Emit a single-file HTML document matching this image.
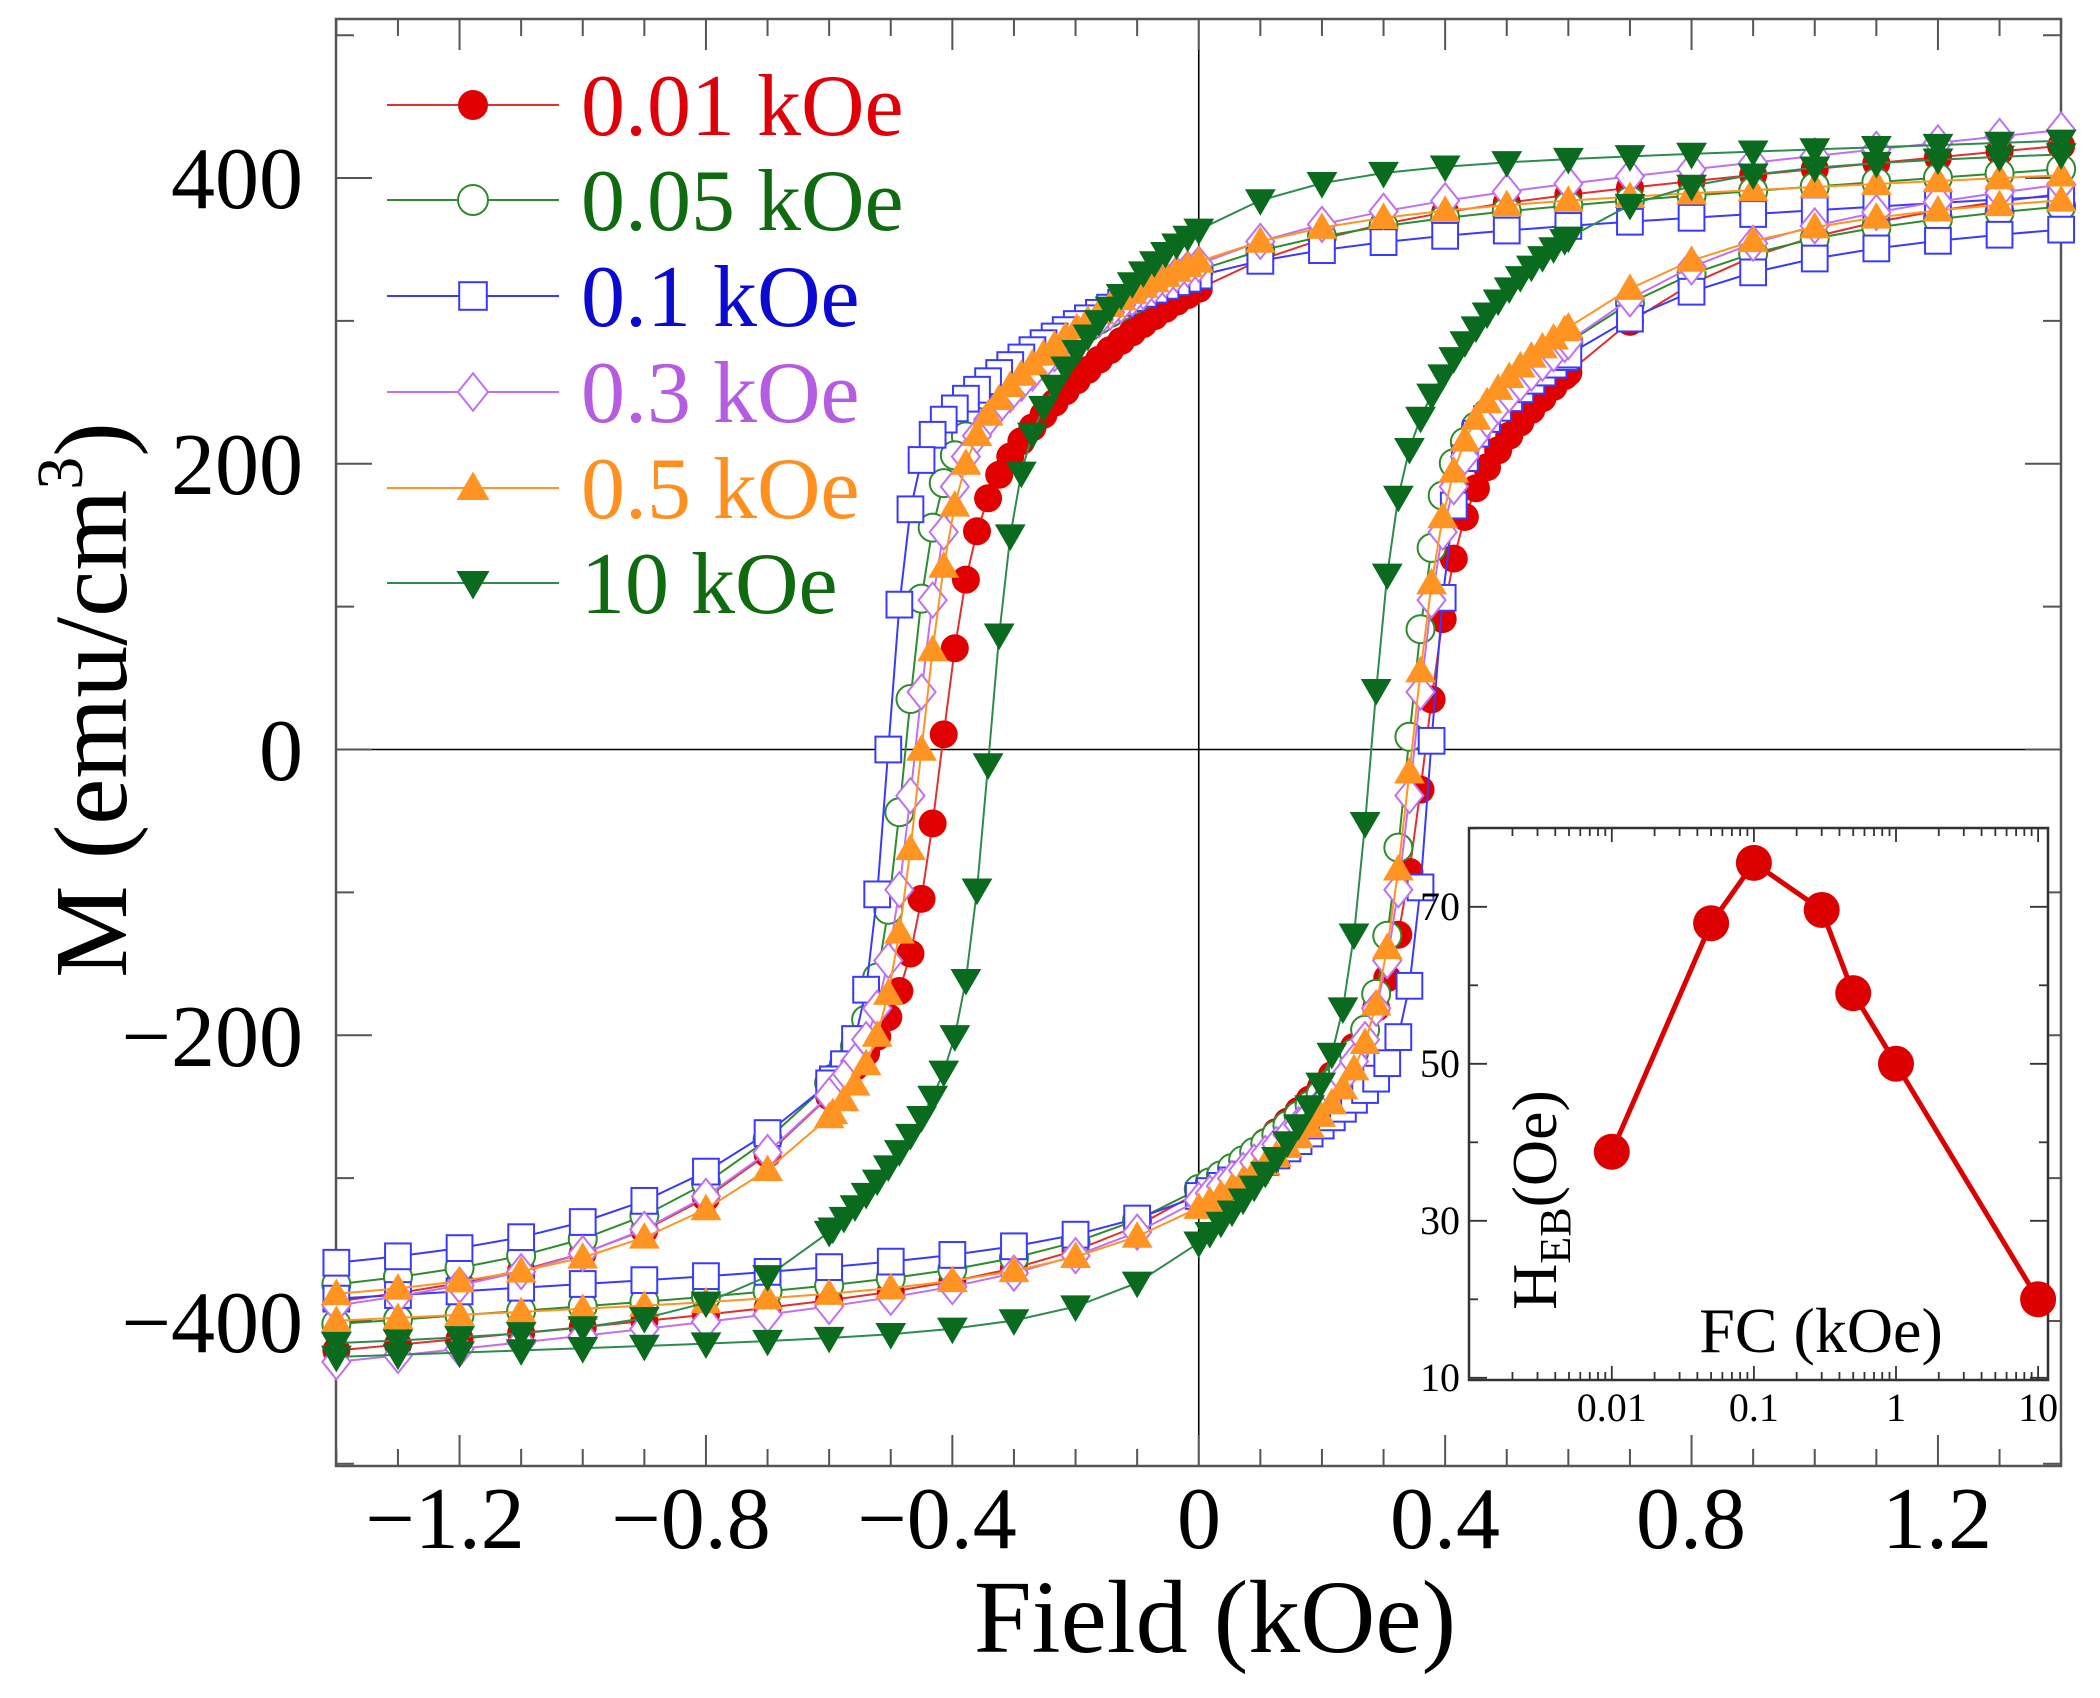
<!DOCTYPE html>
<html><head><meta charset="utf-8">
<style>
html,body{margin:0;padding:0;background:#fff;}
svg{display:block;}
text{font-family:"Liberation Serif","Times New Roman",serif;}
</style></head>
<body>
<svg id="s" width="2100" height="1698" viewBox="0 0 2100 1698" xmlns="http://www.w3.org/2000/svg" font-family="Liberation Serif, serif">
<rect width="2100" height="1698" fill="#fff"/>
<g id="main"></g>
<g id="inset"></g>
<g id="txt">
<g font-size="88" text-anchor="end" fill="#000">
<text x="303" y="208">400</text>
<text x="303" y="494">200</text>
<text x="303" y="780">0</text>
<text x="303" y="1066">−200</text>
<text x="303" y="1352">−400</text>
</g>
<g font-size="88" text-anchor="middle" fill="#000">
<text x="445" y="1548">−1.2</text>
<text x="691" y="1548">−0.8</text>
<text x="937" y="1548">−0.4</text>
<text x="1199" y="1548">0</text>
<text x="1445" y="1548">0.4</text>
<text x="1691" y="1548">0.8</text>
<text x="1937" y="1548">1.2</text>
</g>
<text x="1215" y="1652" font-size="104" text-anchor="middle">Field (kOe)</text>
<text transform="translate(126,700) rotate(-90)" font-size="104" text-anchor="middle">M (emu/cm<tspan font-size="66" dy="-44">3</tspan><tspan dy="44">)</tspan></text>
<g font-size="88">
<text x="581" y="135" fill="#e0000a">0.01 kOe</text>
<text x="581" y="230" fill="#106a10">0.05 kOe</text>
<text x="581" y="326" fill="#0a0ad0">0.1 kOe</text>
<text x="581" y="422" fill="#b55ce0">0.3 kOe</text>
<text x="581" y="518" fill="#ff9020">0.5 kOe</text>
<text x="581" y="613" fill="#106a10">10 kOe</text>
</g>
</g>
</svg>
<script>
(function(){
var NS="http://www.w3.org/2000/svg";
var L=336,R=2061,T=19,B=1466;
function X(h){return 1198.75+h*616;}
function Y(m){return 749.5-m*1.4286;}
var main=document.getElementById('main');
function el(tag,at,par){var e=document.createElementNS(NS,tag);for(var k in at)e.setAttribute(k,at[k]);(par||main).appendChild(e);return e;}
el('line',{x1:X(0),y1:T,x2:X(0),y2:B,stroke:'#000','stroke-width':1.6});
el('line',{x1:L,y1:Y(0),x2:R,y2:Y(0),stroke:'#000','stroke-width':1.6});
for(var i=-14;i<=14;i++){var h=i/10,x=X(h);var maj=(Math.abs(i)%4==0);var len=maj?31:17;
 el('line',{x1:x,y1:B,x2:x,y2:B-len,stroke:'#555','stroke-width':2});
 el('line',{x1:x,y1:T,x2:x,y2:T+len,stroke:'#555','stroke-width':2});}
for(var m=-500;m<=500;m+=100){var y=Y(m);if(y<T||y>B)continue;var maj=(m%200==0);var len=maj?36:18;
 el('line',{x1:L,y1:y,x2:L+len,y2:y,stroke:'#555','stroke-width':2});
 el('line',{x1:R,y1:y,x2:R-len,y2:y,stroke:'#555','stroke-width':2});}
el('rect',{x:L,y:T,width:R-L,height:B-T,fill:'none',stroke:'#555','stroke-width':2.5});

var series=[
 {c:'#e00000',line:'#e03030',mk:'circle',fill:true,hd:-0.417,ha:0.368,A:150,w1:0.05,B:200,w2:0.4,C:40},
 {c:'#2e8b2e',line:'#2e8b2e',mk:'circle',fill:false,hd:-0.476,ha:0.34,A:180,w1:0.045,B:170,w2:0.4,C:30},
 {c:'#3a3aff',line:'#3a3aff',mk:'square',fill:false,hd:-0.504,ha:0.377,A:200,w1:0.035,B:140,w2:0.4,C:25},
 {c:'#c070f0',line:'#c070f0',mk:'diamond',fill:false,hd:-0.46,ha:0.35,A:180,w1:0.05,B:170,w2:0.4,C:45},
 {c:'#ff9422',line:'#ff9422',mk:'up',fill:true,hd:-0.45,ha:0.346,A:195,w1:0.055,B:170,w2:0.4,C:20},
 {c:'#0a6b1f',line:'#2e8b4e',mk:'down',fill:true,hd:-0.34,ha:0.28,A:180,w1:0.04,B:220,w2:0.3,C:15}
];
function th(x){return Math.tanh(x);}
function marker(s,x,y,r,par){
 var f=s.fill?s.c:'#fff',st=s.c;
 if(s.mk=='circle')el('circle',{cx:x,cy:y,r:r,fill:f,stroke:st,'stroke-width':s.fill?0:2},par);
 else if(s.mk=='square')el('rect',{x:x-r*0.92,y:y-r*0.92,width:r*1.84,height:r*1.84,fill:f,stroke:st,'stroke-width':2},par);
 else if(s.mk=='diamond')el('polygon',{points:[x,y-r*1.25,x+r,y,x,y+r*1.25,x-r,y].join(','),fill:f,stroke:st,'stroke-width':2},par);
 else if(s.mk=='up')el('polygon',{points:[x,y-r*1.1,x+r*1.1,y+r*0.8,x-r*1.1,y+r*0.8].join(','),fill:f},par);
 else el('polygon',{points:[x,y+r*1.1,x+r*1.1,y-r*0.8,x-r*1.1,y-r*0.8].join(','),fill:f},par);
}
series.forEach(function(s){
 function f(u){return s.A*th(u/s.w1)+s.B*th(u/s.w2)+s.C*u;}
 var pts=[],h;
 for(h=1.4;h>0.001;h-=0.1)pts.push([h,f(h-s.hd)]);
 for(h=0;h>-0.6;h-=0.018)pts.push([h,f(h-s.hd)]);
 for(h=-0.6;h>=-1.401;h-=0.1)pts.push([h,f(h-s.hd)]);
 var desc=pts;pts=[];
 for(h=-1.4;h<-0.001;h+=0.1)pts.push([h,f(h-s.ha)]);
 for(h=0;h<0.6;h+=0.018)pts.push([h,f(h-s.ha)]);
 for(h=0.6;h<=1.401;h+=0.1)pts.push([h,f(h-s.ha)]);
 var asc=pts;
 [desc,asc].forEach(function(p){
  el('polyline',{points:p.map(function(q){return X(q[0]).toFixed(1)+','+Y(q[1]).toFixed(1);}).join(' '),fill:'none',stroke:s.line,'stroke-width':2});
 });
 desc.concat(asc).forEach(function(q){marker(s,X(q[0]),Y(q[1]),14);});
});
var ly=[105,200,296,392,488,583];
series.forEach(function(s,i){
 el('line',{x1:387,y1:ly[i],x2:559,y2:ly[i],stroke:s.line,'stroke-width':2});
 marker(s,473,ly[i],15);
});
var ins=document.getElementById('inset');
var IL=1469,IR=2048,IT=828,IB=1380;
function IX(v){return 1611.8+(Math.log10(v)+2)*142.1;}
function IY(v){return 906.8-(v-70)*7.85;}
el('rect',{x:IL,y:IT,width:IR-IL,height:IB-IT,fill:'#fff',stroke:'#333','stroke-width':2.5},ins);
for(var d=-3;d<=1;d++){for(var k=1;k<10;k++){var v=k*Math.pow(10,d);var x=IX(v);if(x<IL+1||x>IR-1)continue;var len=(k==1)?14:8;
 el('line',{x1:x,y1:IB,x2:x,y2:IB-len,stroke:'#333','stroke-width':1.8},ins);
 el('line',{x1:x,y1:IT,x2:x,y2:IT+len,stroke:'#333','stroke-width':1.8},ins);}}
for(var v=10;v<=80;v+=10){var y=IY(v);var maj=((v-10)%20==0);var len=maj?18:9;
 el('line',{x1:IL,y1:y,x2:IL+len,y2:y,stroke:'#333','stroke-width':1.8},ins);
 el('line',{x1:IR,y1:y,x2:IR-len,y2:y,stroke:'#333','stroke-width':1.8},ins);}
var d2=[[0.01,38.8],[0.05,67.9],[0.1,75.6],[0.3,69.6],[0.5,59],[1,50],[10,20]];
el('polyline',{points:d2.map(function(q){return IX(q[0])+','+IY(q[1]);}).join(' '),fill:'none',stroke:'#dd0000','stroke-width':5},ins);
d2.forEach(function(q){el('circle',{cx:IX(q[0]),cy:IY(q[1]),r:18,fill:'#dd0000'},ins);});
function t(x,y,s,str,anc,par){var e=el('text',{x:x,y:y,'font-size':s,'text-anchor':anc||'start'},par||ins);e.textContent=str;return e;}
[[70,'70'],[50,'50'],[30,'30'],[10,'10']].forEach(function(q){t(1460,IY(q[0])+13,40,q[1],'end');});
[[0.01,'0.01'],[0.1,'0.1'],[1,'1'],[10,'10']].forEach(function(q){t(IX(q[0]),1421,40,q[1],'middle');});
t(1821,1352,64,'FC (kOe)','middle');
var ht=el('text',{transform:'translate(1556,1200) rotate(-90)','font-size':64,'text-anchor':'middle'},ins);
ht.innerHTML='H<tspan font-size="44" dy="14">EB</tspan><tspan dy="-14">(Oe)</tspan>';
})();
</script>
</body></html>
